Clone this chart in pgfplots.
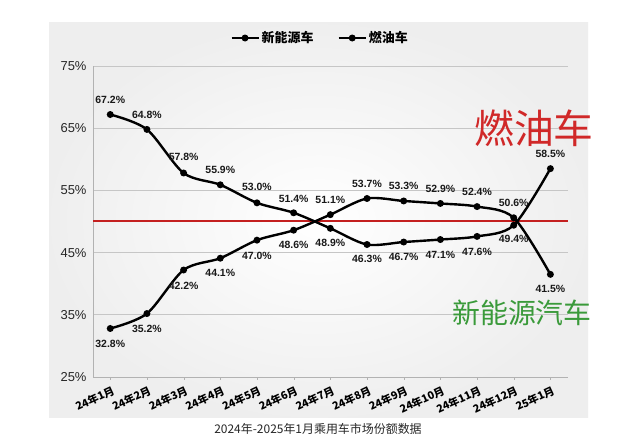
\documentclass[border=0pt]{standalone}
\usepackage{pgfplots}
\pgfplotsset{compat=1.18}
\usepackage{pgfplotstable}
\usepackage{fontspec}
\setmainfont{Liberation Sans}
\newfontfamily\cjk{Noto Sans CJK SC}
\definecolor{redline}{RGB}{196,32,32}
\definecolor{bigred}{HTML}{D02828}
\definecolor{biggreen}{HTML}{3A9A3A}

\pgfplotstableread{
x y off
0 32.8 -15
1 35.2 -15
2 42.2 -16
3 44.1 -15
4 47.0 -16
5 48.6 -15
6 51.1 15
7 53.7 15
8 53.3 15
9 52.9 15
10 52.4 15
11 50.6 15
12 41.5 -15
}\nev

\pgfplotstableread{
x y off
0 67.2 15
1 64.8 15
2 57.8 16
3 55.9 15
4 53.0 16
5 51.4 14
6 48.9 -15
7 46.3 -14
8 46.7 -15
9 47.1 -15
10 47.6 -15
11 49.4 -14
12 58.5 15
}\fuel

\pgfplotsset{
  lbl/.style={
    draw=none, no marks, forget plot,
    nodes near coords={\pgfmathprintnumber[fixed,fixed zerofill,precision=1]{\pgfplotspointmeta}\%},
    visualization depends on={\thisrow{off}\as\myoff},
    every node near coord/.append style={anchor=center, yshift=\myoff*1bp, font=\bfseries\fontsize{10.5}{13}\selectfont, text=black!90, inner sep=0pt},
  }
}

\begin{document}
\begin{tikzpicture}
\path[use as bounding box] (0bp,0bp) rectangle (640bp,439bp);
\fill[white] (0bp,0bp) rectangle (640bp,439bp);
\shade[inner color=white, outer color=gray!13] (49bp,21bp) rectangle (588bp,416bp);
\begin{axis}[
  at={(93bp,62bp)}, anchor=south west,
  scale only axis, width=475bp, height=311bp,
  xmin=-0.47, xmax=12.48, ymin=25, ymax=75,
  clip=false,
  /pgf/number format/assume math mode=true,
  axis x line*=bottom, axis y line*=left,
  axis line style={gray!60, line width=0.8bp},
  ytick={25,35,45,55,65,75},
  yticklabel={\pgfmathprintnumber{\tick}\%},
  yticklabel style={font=\fontsize{13}{15}\selectfont, text=black!85},
  ytick style={draw=none},
  ymajorgrids,
  major grid style={gray!45, line width=0.7bp},
  xtick={0,...,12},
  xticklabels={24年1月,24年2月,24年3月,24年4月,24年5月,24年6月,24年7月,24年8月,24年9月,24年10月,24年11月,24年12月,25年1月},
  xticklabel style={font=\cjk\bfseries\fontsize{10.8}{13}\selectfont, rotate=25, anchor=north east, inner sep=1bp, yshift=-4bp},
  x tick style={gray!60}, tick align=outside, major tick length=3bp,
  legend columns=2,
  legend style={at={(0.478,1.09)}, anchor=center, draw=none, fill=none,
    font=\cjk\bfseries\fontsize{13}{15}\selectfont,
    /tikz/every even column/.append style={column sep=22bp}},
  legend image code/.code={\draw[mark repeat=2,mark phase=2,#1] plot coordinates {(0bp,0bp) (13.5bp,0bp) (27bp,0bp)};},
]
\addplot[draw=redline, line width=2bp, mark=none, forget plot] coordinates {(-0.47,50) (12.48,50)};
\addplot[black, line width=2.4bp, smooth, mark=*, mark size=2.2bp] table[x=x,y=y] {\nev};
\addlegendentry{新能源车}
\addplot[black, line width=2.4bp, smooth, mark=*, mark size=2.2bp] table[x=x,y=y] {\fuel};
\addlegendentry{燃油车}
\addplot[lbl] table[x=x,y=y] {\nev};
\addplot[lbl] table[x=x,y=y] {\fuel};
\end{axis}
\node[text=bigred, font=\cjk\fontsize{40}{40}\selectfont, inner sep=0pt] at (534bp,311bp) {燃油车};
\node[text=biggreen, font=\cjk\fontsize{28}{28}\selectfont, inner sep=0pt] at (522bp,126bp) {新能源汽车};
\node[text=black!85, font=\cjk\fontsize{12}{14}\selectfont, inner sep=0pt] at (318bp,10bp) {2024年-2025年1月乘用车市场份额数据};
\end{tikzpicture}
\end{document}
